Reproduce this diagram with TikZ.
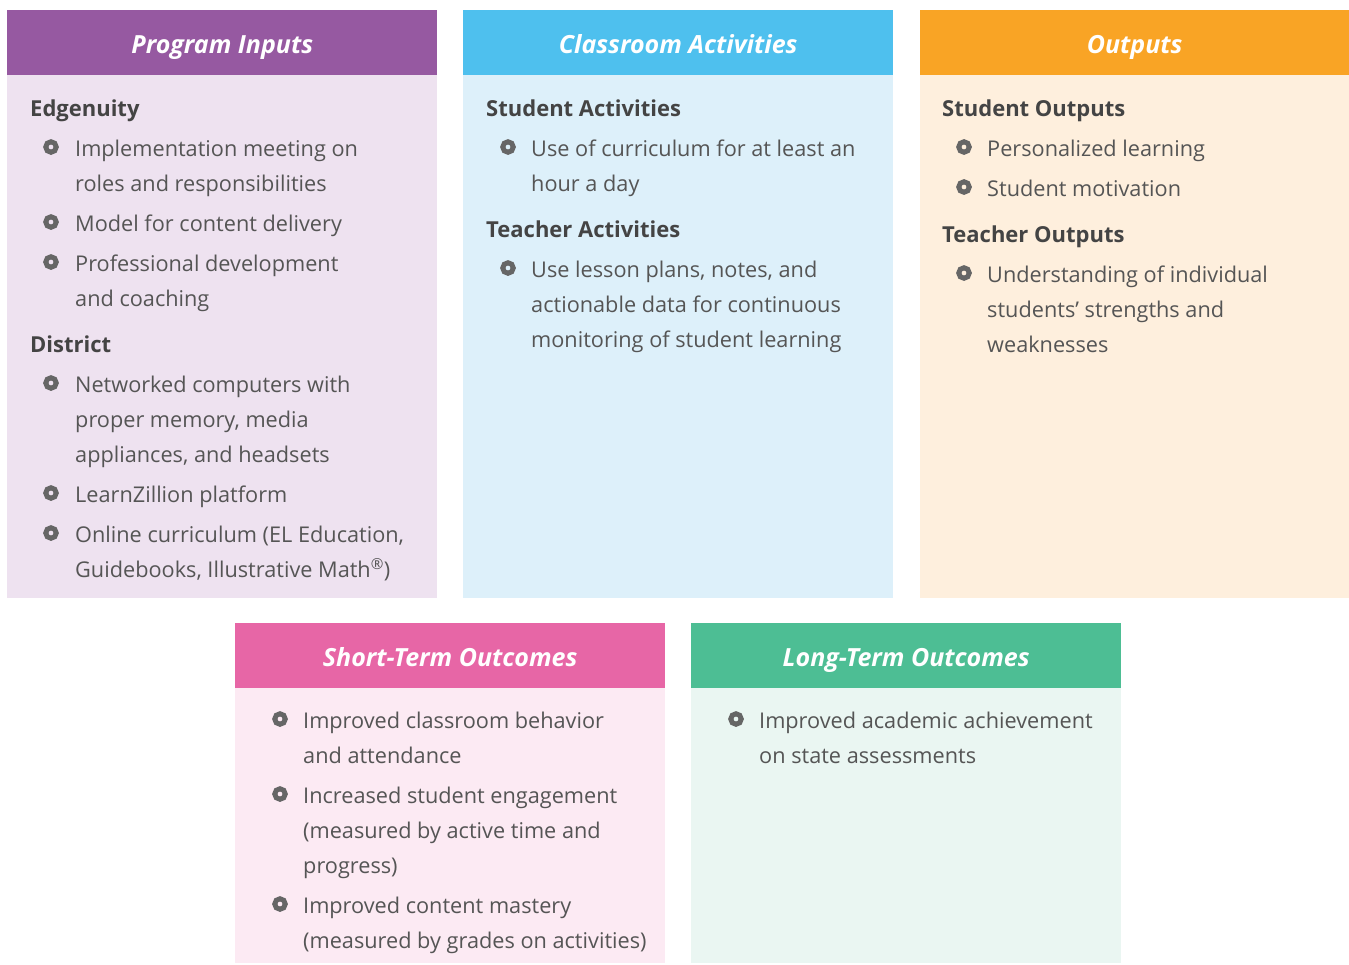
\documentclass[tikz,border=0pt]{standalone}
\usepackage{fontspec}
\setmainfont{Open Sans}
\usepackage{xcolor}
\usepackage{tikz}
\definecolor{txtgray}{HTML}{555555}
\definecolor{hdgray}{HTML}{444444}
\definecolor{bltgray}{HTML}{666666}
\definecolor{purpH}{HTML}{9659A1}
\definecolor{purpB}{HTML}{EEE2F0}
\definecolor{blueH}{HTML}{4EC0EE}
\definecolor{blueB}{HTML}{DDF0FA}
\definecolor{orngH}{HTML}{F9A425}
\definecolor{orngB}{HTML}{FEEFDD}
\definecolor{pinkH}{HTML}{E766A6}
\definecolor{pinkB}{HTML}{FCEAF3}
\definecolor{grnH}{HTML}{4DBE94}
\definecolor{grnB}{HTML}{EAF6F2}
\tikzstyle{col_h} = [rectangle, anchor=north west, inner sep=0pt, minimum width=430pt, minimum height=65pt, text height=21pt, text depth=0pt, white, font=\fontsize{25}{30}\selectfont\bfseries\itshape]
\tikzstyle{col_b} = [rectangle, anchor=north west, inner sep=0pt, minimum width=430pt]
\tikzstyle{grp} = [anchor=base west, inner sep=0pt, hdgray, font=\fontsize{22}{35}\selectfont\bfseries]
% base anchor of a multi-line node sits on its last line
\tikzstyle{itm} = [anchor=base west, inner sep=0pt, align=left, txtgray, font=\fontsize{21.7}{35}\selectfont]
\tikzstyle{blt} = [circle, draw=bltgray, line width=5pt, minimum size=10.5pt, inner sep=0pt]

\begin{document}
\begin{tikzpicture}[x=1pt,y=-1pt]
\useasboundingbox (0,0) rectangle (1349,964);
% top row
\node [col_b, fill=purpB, minimum height=523pt] (pib) at (7,75) {};
\node [col_h, fill=purpH] (pih) at (7,10) {Program Inputs};
\node [col_b, fill=blueB, minimum height=523pt] (cab) at (463,75) {};
\node [col_h, fill=blueH] (cah) at (463,10) {Classroom Activities};
\node [col_b, fill=orngB, minimum height=523pt, minimum width=429pt] (oub) at (920,75) {};
\node [col_h, fill=orngH, minimum width=429pt] (ouh) at (920,10) {Outputs};
% bottom row
\node [col_b, fill=pinkB, minimum height=276pt] (stb) at (235,687) {};
\node [col_h, fill=pinkH] (sth) at (235,623) {Short-Term Outcomes};
\node [col_b, fill=grnB, minimum height=276pt] (ltb) at (691,687) {};
\node [col_h, fill=grnH] (lth) at (691,623) {Long-Term Outcomes};

% Program Inputs
\node [grp] (pig1) at (30,116) {Edgenuity};
\node [itm] (pi1) at (75,191) {Implementation meeting on\\roles and responsibilities};
\node [itm] (pi2) at (75,231) {Model for content delivery};
\node [itm] (pi3) at (75,306) {Professional development\\and coaching};
\node [grp] (pig2) at (30,352) {District};
\node [itm] (pi4) at (75,462) {Networked computers with\\proper memory, media\\appliances, and headsets};
\node [itm] (pi5) at (75,502) {LearnZillion platform};
\node [itm] (pi6) at (75,577) {Online curriculum (EL Education,\\Guidebooks, Illustrative Math\textsuperscript{\textregistered})};
\foreach \n/\y in {pi1b/156, pi2b/231, pi3b/271, pi4b/392, pi5b/502, pi6b/542}
  \node [blt] (\n) at (51,\y-9) {};

% Classroom Activities
\node [grp] (cag1) at (486,116) {Student Activities};
\node [itm] (ca1) at (531,191) {Use of curriculum for at least an\\hour a day};
\node [grp] (cag2) at (486,237) {Teacher Activities};
\node [itm] (ca2) at (531,347) {Use lesson plans, notes, and\\actionable data for continuous\\monitoring of student learning};
\foreach \n/\y in {ca1b/156, ca2b/277}
  \node [blt] (\n) at (508,\y-9) {};

% Outputs
\node [grp] (oug1) at (942,116) {Student Outputs};
\node [itm] (ou1) at (987,156) {Personalized learning};
\node [itm] (ou2) at (987,196) {Student motivation};
\node [grp] (oug2) at (942,242) {Teacher Outputs};
\node [itm] (ou3) at (987,352) {Understanding of individual\\students’ strengths and\\weaknesses};
\foreach \n/\y in {ou1b/156, ou2b/196, ou3b/282}
  \node [blt] (\n) at (964,\y-9) {};

% Short-Term Outcomes
\node [itm] (st1) at (303,763) {Improved classroom behavior\\and attendance};
\node [itm] (st2) at (303,873) {Increased student engagement\\(measured by active time and\\progress)};
\node [itm] (st3) at (303,948) {Improved content mastery\\(measured by grades on activities)};
\foreach \n/\y in {st1b/728, st2b/803, st3b/913}
  \node [blt] (\n) at (280,\y-9) {};

% Long-Term Outcomes
\node [itm] (lt1) at (759,763) {Improved academic achievement\\on state assessments};
\node [blt] (lt1b) at (736,719) {};
\end{tikzpicture}
\end{document}
